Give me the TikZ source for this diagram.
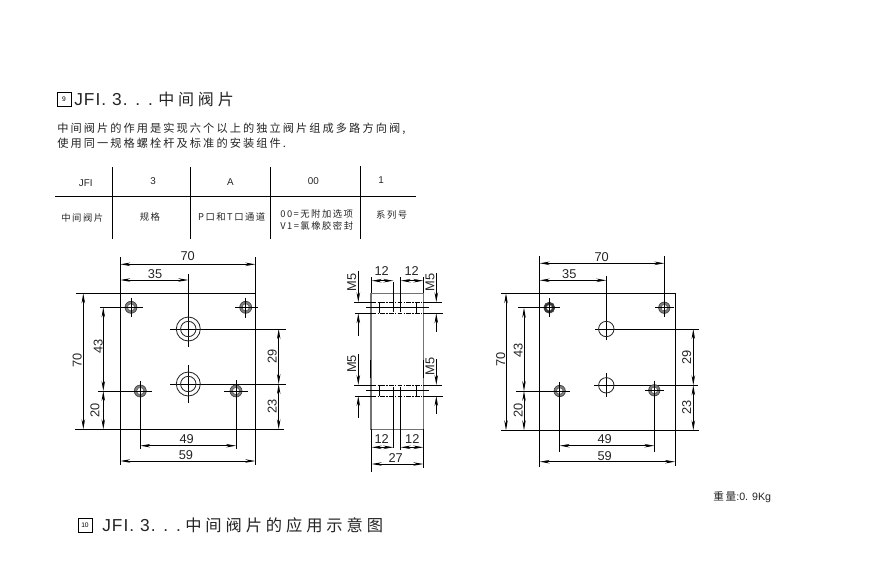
\documentclass[tikz,border=0pt]{standalone}
\usepackage{fontspec}
\setmainfont{Liberation Sans}
\newfontfamily\cjk{Noto Sans CJK SC}[LetterSpace=18.5]
\newfontfamily\cjktable{Noto Sans CJK SC}[LetterSpace=16]
\newfontfamily\cjkwide{Noto Sans CJK SC}[LetterSpace=24]
\newfontfamily\latinwide{Liberation Sans}[LetterSpace=6]
\usetikzlibrary{positioning, arrows.meta}
\definecolor{inkgray}{gray}{0.14}
\tikzstyle{dimline} = [line width=0.62pt, {Stealth[length=7.5pt,width=2.6pt]}-{Stealth[length=7.5pt,width=2.6pt]}]
\tikzstyle{arrowline} = [line width=0.62pt, -{Stealth[length=7.5pt,width=2.6pt]}]
\tikzstyle{thin line} = [line width=0.68pt, black]
\tikzstyle{bodyline} = [line width=0.85pt, black!55]
\tikzstyle{hidden} = [line width=0.6pt, black, dash pattern=on 3.5pt off 1pt on 1pt off 1pt]
\tikzstyle{dimlabel} = [inner sep=0pt, text=inkgray, font=\fontsize{9.6}{10}\selectfont]
\tikzstyle{dimlabelv} = [dimlabel, rotate=90]
\tikzstyle{cell} = [inner sep=0pt, text=inkgray, font=\fontsize{7.4}{8}\selectfont]
\tikzstyle{cncell} = [inner sep=0pt, text=inkgray, font=\fontsize{7}{8}\selectfont\cjktable]
\tikzstyle{badge} = [draw=black, line width=0.55pt, minimum size=10.5pt, inner sep=0pt, font=\fontsize{5}{5}\selectfont]
\tikzstyle{heading} = [inner sep=0pt, anchor=west, text=inkgray, font=\fontsize{13}{15}\selectfont\latinwide]
\tikzstyle{cnheading} = [inner sep=0pt, anchor=west, text=inkgray, font=\fontsize{12}{15}\selectfont\cjkwide]
\tikzstyle{para} = [inner sep=0pt, anchor=west, text=inkgray, font=\fontsize{8.4}{9}\selectfont\cjk]
\tikzstyle{bighole} = [draw=black!85, line width=0.62pt]
\tikzstyle{smallhole} = [draw=black!75, line width=0.5pt, fill=black!50]
\tikzstyle{holecore} = [draw=black!65, line width=0.45pt, fill=white]

\begin{document}
\begin{tikzpicture}[x=0.75pt, y=-0.75pt]
	\useasboundingbox (0,0) rectangle (892,572);

	% headings and text
	\node (badgenine) [badge] at (64,99.5) {9};
	\node (titlea) [heading] at (74,99.5) {JFI. 3. . .};
	\node (titleb) [cnheading] at (158,99.5) {中间阀片};
	\node (paraa) [para] at (57,129) {中间阀片的作用是实现六个以上的独立阀片组成多路方向阀,};
	\node (parab) [para] at (57,143.3) {使用同一规格螺栓杆及标准的安装组件.};

	% table
	\draw [thin line] (55,196.3) -- (415.7,196.3);
	\foreach \x/\t in {112.3/167.3, 190.3/167.3, 270.3/167.3, 360.3/166}
		\draw [thin line] (\x,\t) -- (\x,238.7);
	\node (cola) [cell] at (85.7,182.7) {JFI};
	\node (colb) [cell] at (153,181) {3};
	\node (colc) [cell] at (230.3,181.7) {A};
	\node (cold) [cell] at (313.3,180.7) {00};
	\node (cole) [cell] at (381,179.7) {1};
	\node (namea) [cncell] at (82.3,218.3) {中间阀片};
	\node (nameb) [cncell] at (150,217.3) {规格};
	\node (namec) [cncell] at (231.7,217) {P口和T口通道};
	\node (named) [cncell] at (316.7,214) {00=无附加选项};
	\node (namee) [cncell] at (316.7,226) {V1=氯橡胶密封};
	\node (namef) [cncell] at (391.7,215) {系列号};

	% left plate
	\draw [thin line] (76,293.3) -- (255.3,293.3);
	\draw [thin line] (75,429.3) -- (284,429.3);
	\draw [thin line] (120.3,257) -- (120.3,465);
	\draw [thin line] (255.3,257) -- (255.3,465);
	\draw [thin line] (188.3,274) -- (188.3,347);
	\draw [thin line] (188.3,365) -- (188.3,402.7);
	\draw [thin line] (170,329) -- (286,329);
	\draw [thin line] (170,384) -- (286,384);
	\foreach \y in {329,384} {
		\draw [bighole] (188.3,\y) circle (12);
		\draw [bighole] (188.3,\y) circle (7.7);
	}
	\foreach \x/\y/\r in {131/307.3/6, 245.7/307.3/6, 140.3/391/6, 236/391/6} {
		\draw [smallhole] (\x,\y) circle (\r);
		\draw [holecore] (\x,\y) circle (3.6);
	}
	\draw [thin line] (131,297.7) -- (131,316.7);
	\draw [thin line] (100.3,307.3) -- (142.7,307.3);
	\draw [thin line] (245.7,298) -- (245.7,317.7);
	\draw [thin line] (235.3,307.3) -- (258,307.3);
	\draw [thin line] (140.3,381) -- (140.3,449.3);
	\draw [thin line] (98.3,391) -- (152,391);
	\draw [thin line] (236,380) -- (236,449.3);
	\draw [thin line] (224,391) -- (247.7,391);
	\draw [dimline] (120.3,264.3) -- (255.3,264.3);
	\draw [dimline] (120.3,280) -- (188.3,280);
	\draw [dimline] (140.3,445.7) -- (236,445.7);
	\draw [dimline] (120.3,461) -- (255.3,461);
	\draw [dimline] (83.3,293.3) -- (83.3,429.3);
	\draw [dimline] (103.3,307.3) -- (103.3,391);
	\draw [dimline] (103.3,391) -- (103.3,429.3);
	\draw [dimline] (278.7,329) -- (278.7,384);
	\draw [dimline] (278.7,384) -- (278.7,429.3);
	\node (lefttop) [dimlabel] at (187.7,255.7) {70};
	\node (lefthalf) [dimlabel] at (155,273.7) {35};
	\node (leftlow) [dimlabel] at (186.7,439) {49};
	\node (leftbot) [dimlabel] at (186,455) {59};
	\node (leftside) [dimlabelv] at (77.3,360) {70};
	\node (leftup) [dimlabelv] at (98.3,346.7) {43};
	\node (leftdown) [dimlabelv] at (95,410) {20};
	\node (leftgap) [dimlabelv] at (272.3,356.7) {29};
	\node (leftedge) [dimlabelv] at (272.3,406) {23};

	% middle view
	\draw [bodyline] (371,293.3) rectangle (423.3,429.3);
	\draw [thin line] (370.7,360) -- (370.7,378);
	\draw [thin line] (423.6,360) -- (423.6,378);
	\foreach \t/\b in {302.3/313.3, 385/396} {
		\draw [thin line] (354,\t) -- (371.7,\t);
		\draw [thin line] (355,\b) -- (371.7,\b);
		\draw [thin line] (423.3,\t) -- (441.7,\t);
		\draw [thin line] (423.3,\b) -- (442.7,\b);
		\draw [hidden] (371.7,\t) -- (423.3,\t);
		\draw [hidden] (371.7,\b) -- (423.3,\b);
		\draw [thin line] (379,\t) -- (379,\b);
		\draw [thin line] (416,\t) -- (416,\b);
	}
	\draw [thin line] (366,307.8) -- (429.3,307.8);
	\draw [thin line] (366,390.7) -- (429.3,390.7);
	\draw [thin line] (393.3,281.7) -- (393.3,312.3);
	\draw [thin line] (400.7,277.3) -- (400.7,311.7);
	\draw [thin line] (393.3,386.7) -- (393.3,448.3);
	\draw [thin line] (400.7,386.7) -- (400.7,450);
	\draw [thin line] (371.7,277) -- (371.7,293.3);
	\draw [thin line] (423.3,277) -- (423.3,293.3);
	\draw [thin line] (371.7,429.3) -- (371.7,471.7);
	\draw [thin line] (423.3,429.3) -- (423.3,468.3);
	\draw [dimline] (371.7,280.7) -- (393.3,280.7);
	\draw [dimline] (400.7,280.7) -- (423.3,280.7);
	\draw [dimline] (371.7,447.3) -- (393.3,447.3);
	\draw [dimline] (400.7,447.3) -- (423.3,447.3);
	\draw [dimline] (371.7,464) -- (423.3,464);
	\draw [arrowline] (358.3,270.7) -- (358.3,302.3);
	\draw [arrowline] (358.3,336) -- (358.3,313.3);
	\draw [arrowline] (436.3,273.3) -- (436.3,302.3);
	\draw [arrowline] (436.3,331.7) -- (436.3,313.3);
	\draw [arrowline] (358.3,354) -- (358.3,385);
	\draw [arrowline] (358.3,418.3) -- (358.3,396);
	\draw [arrowline] (436.3,359.3) -- (436.3,385);
	\draw [arrowline] (436.3,414) -- (436.3,396);
	\node (midtopa) [dimlabel] at (381.7,271) {12};
	\node (midtopb) [dimlabel] at (411.7,271) {12};
	\node (midbota) [dimlabel] at (381.7,439.3) {12};
	\node (midbotb) [dimlabel] at (412.3,439.3) {12};
	\node (midwide) [dimlabel] at (395.7,458.3) {27};
	\node (threada) [dimlabelv] at (351.7,282.3) {M5};
	\node (threadb) [dimlabelv] at (430,282.3) {M5};
	\node (threadc) [dimlabelv] at (351.7,364) {M5};
	\node (threadd) [dimlabelv] at (430,366.7) {M5};

	% right plate
	\draw [thin line] (501,293.3) -- (675,293.3);
	\draw [thin line] (501,430.3) -- (699,430.3);
	\draw [thin line] (539.7,256) -- (539.7,467);
	\draw [thin line] (675,293.3) -- (675,466);
	\draw [thin line] (664.3,256) -- (664.3,317);
	\draw [thin line] (606.3,276) -- (606.3,340);
	\draw [thin line] (606.3,373) -- (606.3,396.7);
	\draw [thin line] (595,329) -- (699,329);
	\draw [thin line] (594,385.3) -- (697.7,385.3);
	\foreach \y in {329,385.3}
		\draw [bighole] (606.3,\y) circle (7.7);
	\draw [smallhole, fill=black!80] (549.3,307.7) circle (5.5);
	\draw [holecore] (549.3,307.7) circle (3);
	\foreach \x/\y in {664.3/307.7, 559.7/391, 654.3/390.3} {
		\draw [smallhole] (\x,\y) circle (5.7);
		\draw [holecore] (\x,\y) circle (3.3);
	}
	\draw [thin line] (549.3,298) -- (549.3,316.7);
	\draw [thin line] (518.3,307.7) -- (560,307.7);
	\draw [thin line] (664.3,298) -- (664.3,317);
	\draw [thin line] (655,307.7) -- (674,307.7);
	\draw [thin line] (559.7,382) -- (559.7,451.7);
	\draw [thin line] (516,391) -- (570,391);
	\draw [thin line] (654.3,380.7) -- (654.3,451.7);
	\draw [thin line] (645,390.3) -- (664,390.3);
	\draw [dimline] (539.7,263.3) -- (664.3,263.3);
	\draw [dimline] (539.7,280.3) -- (606.3,280.3);
	\draw [dimline] (559.7,445.7) -- (654.3,445.7);
	\draw [dimline] (539.7,461.7) -- (675,461.7);
	\draw [dimline] (506,293.3) -- (506,430.3);
	\draw [dimline] (524,307.7) -- (524,391);
	\draw [dimline] (524,391) -- (524,430.3);
	\draw [dimline] (693.3,329) -- (693.3,385.3);
	\draw [dimline] (693.3,385.3) -- (693.3,430.3);
	\node (righttop) [dimlabel] at (601.7,256.7) {70};
	\node (righthalf) [dimlabel] at (569.3,274.3) {35};
	\node (rightlow) [dimlabel] at (604.7,439) {49};
	\node (rightbot) [dimlabel] at (604.7,455.7) {59};
	\node (rightside) [dimlabelv] at (500.7,359.3) {70};
	\node (rightup) [dimlabelv] at (518.3,350) {43};
	\node (rightdown) [dimlabelv] at (518.3,410) {20};
	\node (rightgap) [dimlabelv] at (686.7,357.3) {29};
	\node (rightedge) [dimlabelv] at (686.7,407.3) {23};

	% foot of the page
	\node (weight) [cell, anchor=west, font=\fontsize{8}{9}\selectfont] at (713,497) {{\cjktable 重量}:0. 9Kg};
	\node (badgeten) [badge] at (85,525.5) {10};
	\node (titlec) [heading] at (102,525.5) {JFI. 3. . .};
	\node (titled) [cnheading, font=\fontsize{12.2}{15}\selectfont\cjkwide] at (185,525.5) {中间阀片的应用示意图};
\end{tikzpicture}
\end{document}
